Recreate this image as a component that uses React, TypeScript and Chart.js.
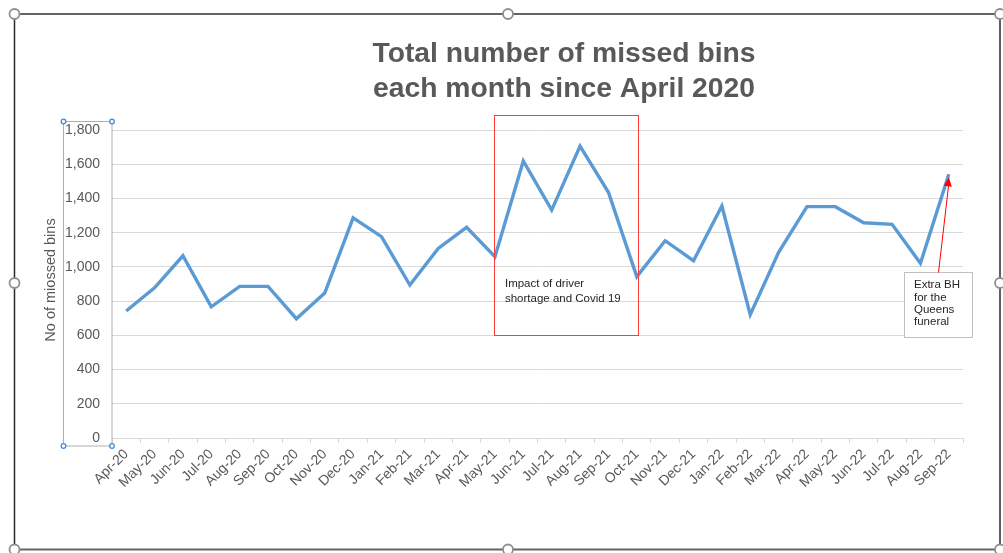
import React, { useEffect, useRef } from "react";
import { Chart, registerables } from "chart.js";

Chart.register(...registerables);

const months: string[] = [
  "Apr-20", "May-20", "Jun-20", "Jul-20", "Aug-20", "Sep-20", "Oct-20", "Nov-20", "Dec-20",
  "Jan-21", "Feb-21", "Mar-21", "Apr-21", "May-21", "Jun-21", "Jul-21", "Aug-21", "Sep-21",
  "Oct-21", "Nov-21", "Dec-21", "Jan-22", "Feb-22", "Mar-22", "Apr-22", "May-22", "Jun-22",
  "Jul-22", "Aug-22", "Sep-22",
];

const missedBins: number[] = [
  742, 878, 1065, 767, 886, 886, 697, 847, 1286, 1177, 894, 1108, 1231, 1060, 1619,
  1332, 1706, 1436, 943, 1153, 1036, 1356, 721, 1085, 1352, 1352, 1258, 1249, 1021, 1541,
];

const titleLines: string[] = ["Total number of missed bins", "each month since April 2020"];
const yAxisTitle = "No of miossed bins";
const covidNote: string[] = ["Impact of driver", "shortage and Covid 19"];
const queenNote: string[] = ["Extra BH", "for the", "Queens", "funeral"];

const FONT = "'Liberation Sans', Arial, sans-serif";
const GREY = "#595959";

const overlayPlugin = {
  id: "overlay",
  afterDraw(chart: any) {
    const ctx: CanvasRenderingContext2D = chart.ctx;
    const xs = chart.scales.x;
    const ys = chart.scales.y;
    ctx.save();

    // Title
    ctx.fillStyle = GREY;
    ctx.font = `bold 28.3px ${FONT}`;
    ctx.textAlign = "center";
    ctx.textBaseline = "alphabetic";
    ctx.fillText(titleLines[0], 564, 62);
    ctx.fillText(titleLines[1], 564, 97);

    // Y axis title
    ctx.save();
    ctx.translate(51, 280);
    ctx.rotate(-Math.PI / 2);
    ctx.font = `14.5px ${FONT}`;
    ctx.textAlign = "center";
    ctx.textBaseline = "middle";
    ctx.fillStyle = GREY;
    ctx.fillText(yAxisTitle, 0, 0);
    ctx.restore();

    // Covid annotation rectangle
    const rl = xs.getPixelForValue(13) - 1;
    const rr = xs.getPixelForValue(18) + 1;
    const rt = ys.getPixelForValue(1888);
    const rb = ys.getPixelForValue(602);
    ctx.strokeStyle = "#ff3b3b";
    ctx.lineWidth = 1;
    ctx.strokeRect(Math.round(rl) + 0.5, Math.round(rt) + 0.5, Math.round(rr - rl), Math.round(rb - rt));
    ctx.fillStyle = "#262626";
    ctx.font = `11.5px ${FONT}`;
    ctx.textAlign = "left";
    ctx.textBaseline = "middle";
    ctx.fillText(covidNote[0], rl + 11, 284);
    ctx.fillText(covidNote[1], rl + 11, 298.5);

    // Queens funeral note
    const bx = 904.5, by = 272.5, bw = 68, bh = 65;
    ctx.fillStyle = "#ffffff";
    ctx.fillRect(bx, by, bw, bh);
    ctx.strokeStyle = "#bfbfbf";
    ctx.strokeRect(bx, by, bw, bh);
    ctx.fillStyle = "#262626";
    queenNote.forEach((t, i) => ctx.fillText(t, bx + 9.5, 285 + i * 12.4));

    // Arrow
    const tipX = xs.getPixelForValue(29);
    const tipY = ys.getPixelForValue(1541) + 3;
    const sx = 938.5, sy = by;
    ctx.strokeStyle = "#ff0000";
    ctx.lineWidth = 1;
    ctx.beginPath();
    ctx.moveTo(sx, sy);
    ctx.lineTo(tipX, tipY + 6);
    ctx.stroke();
    const ang = Math.atan2(tipY - sy, tipX - sx);
    ctx.fillStyle = "#ff0000";
    ctx.beginPath();
    ctx.moveTo(tipX, tipY);
    ctx.lineTo(tipX - 9 * Math.cos(ang) + 4 * Math.sin(ang), tipY - 9 * Math.sin(ang) - 4 * Math.cos(ang));
    ctx.lineTo(tipX - 9 * Math.cos(ang) - 4 * Math.sin(ang), tipY - 9 * Math.sin(ang) + 4 * Math.cos(ang));
    ctx.closePath();
    ctx.fill();

    // Selection box around y tick labels
    const sl = 63.5, sr = 112, st = 121.5, sb = 446;
    ctx.strokeStyle = "#b0b0b0";
    ctx.lineWidth = 1;
    ctx.strokeRect(sl, st, sr - sl, sb - st);
    ctx.fillStyle = "#ffffff";
    ctx.strokeStyle = "#3b8ede";
    ctx.lineWidth = 1.3;
    [[sl, st], [sr, st], [sl, sb], [sr, sb]].forEach(([hx, hy]) => {
      ctx.beginPath();
      ctx.arc(hx, hy, 2.3, 0, Math.PI * 2);
      ctx.fill();
      ctx.stroke();
    });

    // Outer frame
    const fl = 14.5, fr = 1000, ft = 14, fb = 549.5;
    ctx.strokeStyle = "#646464";
    ctx.lineWidth = 2;
    ctx.beginPath();
    ctx.moveTo(fl, ft); ctx.lineTo(fr, ft);
    ctx.moveTo(fl, fb); ctx.lineTo(fr, fb);
    ctx.stroke();
    ctx.strokeStyle = "#2a2a2a";
    ctx.lineWidth = 1.5;
    ctx.beginPath();
    ctx.moveTo(fl, ft); ctx.lineTo(fl, fb);
    ctx.moveTo(fr, ft); ctx.lineTo(fr, fb);
    ctx.stroke();
    const mx = 508, my = 283;
    ctx.fillStyle = "#ffffff";
    ctx.strokeStyle = "#8f8f8f";
    ctx.lineWidth = 1.8;
    [[fl, ft], [mx, ft], [fr, ft], [fl, my], [fr, my], [fl, fb], [mx, fb], [fr, fb]].forEach(([hx, hy]) => {
      ctx.beginPath();
      ctx.arc(hx, hy, 5, 0, Math.PI * 2);
      ctx.fill();
      ctx.stroke();
    });

    ctx.restore();
  },
};

export default function App() {
  const ref = useRef<HTMLCanvasElement | null>(null);

  useEffect(() => {
    if (!ref.current) return;
    const chart = new Chart(ref.current, {
      type: "line",
      data: {
        labels: months,
        datasets: [
          {
            label: "Missed bins",
            data: missedBins,
            borderColor: "#5b9bd5",
            borderWidth: 3.4,
            pointRadius: 0,
            tension: 0,
            fill: false,
          },
        ],
      },
      options: {
        responsive: false,
        animation: false,
        layout: { padding: { top: 130, left: 0, right: 40, bottom: 0 } },
        plugins: {
          legend: { display: false },
          title: { display: false },
          tooltip: { enabled: false },
        },
        scales: {
          x: {
            type: "category",
            offset: true,
            grid: {
              offset: true,
              drawOnChartArea: false,
              drawTicks: true,
              tickLength: 5,
              color: "#d9d9d9",
            },
            border: { color: "#d9d9d9", width: 1 },
            ticks: {
              autoSkip: false,
              minRotation: 45,
              maxRotation: 45,
              padding: 3,
              color: GREY,
              font: { family: FONT, size: 14 },
            },
            afterFit: (s: any) => {
              s.height = 115;
            },
          },
          y: {
            min: 0,
            max: 1800,
            grid: { color: "#d9d9d9", drawTicks: false },
            border: { display: false },
            ticks: {
              stepSize: 200,
              padding: 12,
              color: GREY,
              font: { family: FONT, size: 14 },
              callback: (v: any) => Number(v).toLocaleString("en-US"),
            },
            afterFit: (s: any) => {
              s.width = 112;
            },
          },
        },
      },
      plugins: [overlayPlugin],
    });
    return () => chart.destroy();
  }, []);

  return (
    <div style={{ position: "fixed", left: 0, top: 0, width: 1003, height: 553, background: "#fff" }}>
      <canvas ref={ref} width={1003} height={553} style={{ display: "block" }} />
    </div>
  );
}
